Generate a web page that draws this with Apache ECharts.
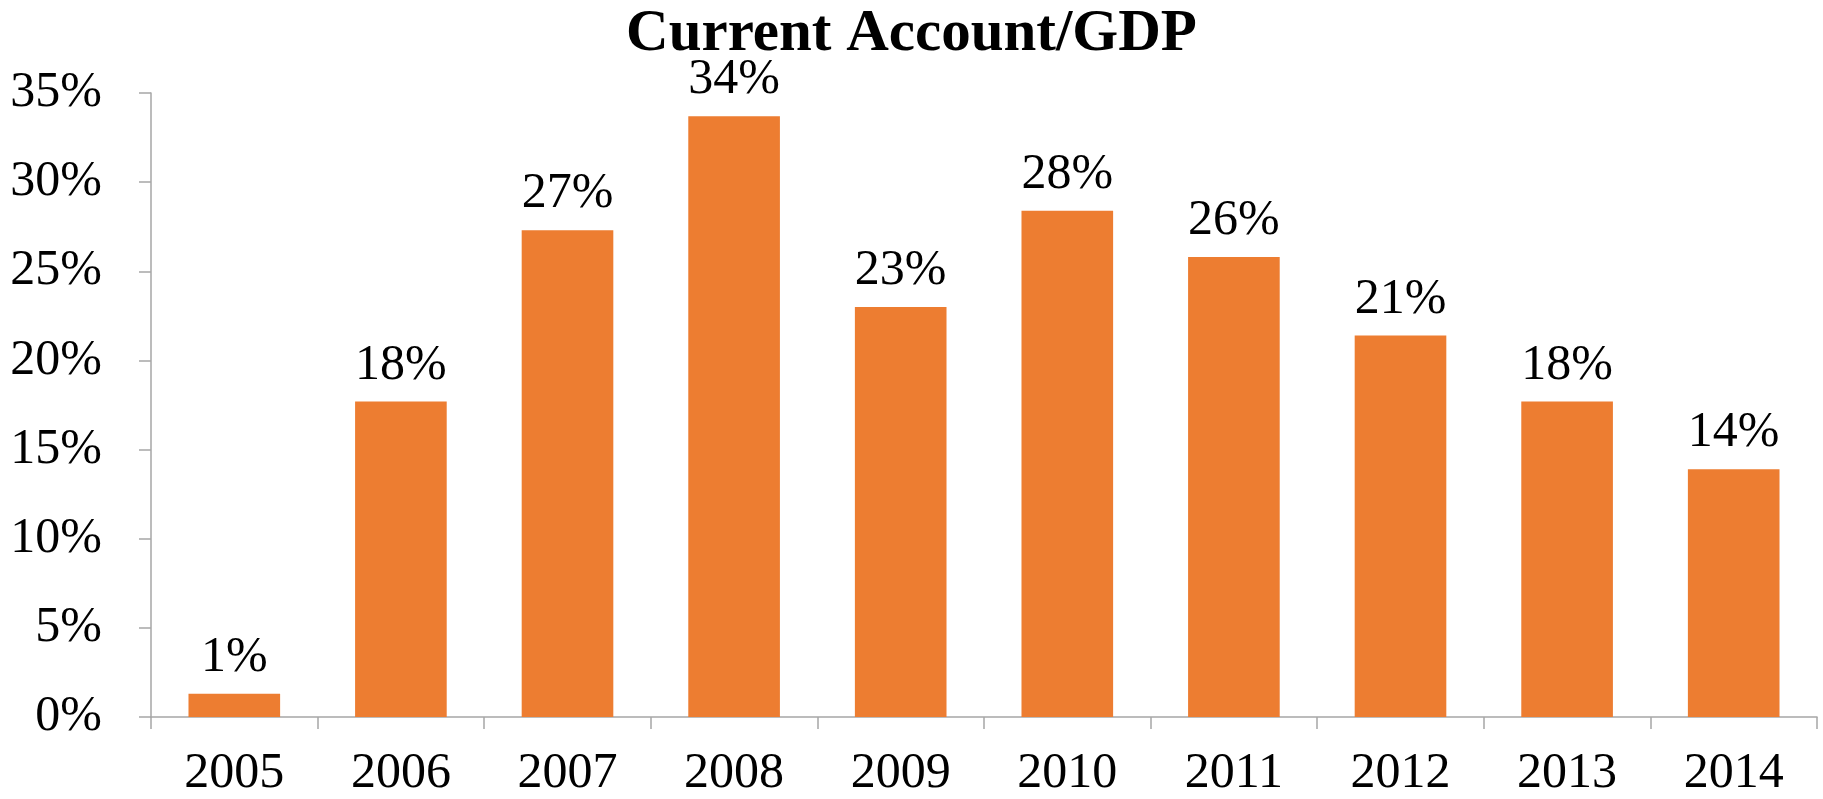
<!DOCTYPE html>
<html>
<head>
<meta charset="utf-8">
<script src="https://cdn.jsdelivr.net/npm/echarts@6/dist/echarts.min.js"></script>
<style>
html,body{margin:0;padding:0;background:#fff;}
#chart{width:1823px;height:799px;}
</style>
</head>
<body>
<div id="chart"></div>
<script>
const categories = ['2005','2006','2007','2008','2009','2010','2011','2012','2013','2014'];
const values = [1.3, 17.7, 27.3, 33.7, 23.0, 28.4, 25.8, 21.4, 17.7, 13.9];
const titleText = 'Current Account/GDP';

const chart = echarts.init(document.getElementById('chart'));
const font = 'Liberation Serif';
chart.setOption({
  animation: false,
  backgroundColor: '#ffffff',
  title: {
    text: titleText,
    left: 'center',
    top: 0,
    textStyle: {fontFamily: font, fontWeight: 'bold', fontSize: 59, color: '#000'}
  },
  grid: {left: 151, right: 6, top: 93, bottom: 82, containLabel: false},
  xAxis: {
    type: 'category',
    data: categories,
    axisLine: {show: true, lineStyle: {color: '#a6a6a6', width: 1.5}},
    axisTick: {show: true, length: 12, alignWithLabel: false, lineStyle: {color: '#a6a6a6', width: 1.5}},
    axisLabel: {fontFamily: font, fontSize: 50, color: '#000', margin: 32, interval: 0}
  },
  yAxis: {
    type: 'value',
    min: 0, max: 35, interval: 5,
    splitLine: {show: false},
    axisLine: {show: true, lineStyle: {color: '#a6a6a6', width: 1.5}},
    axisTick: {show: true, length: 12, lineStyle: {color: '#a6a6a6', width: 1.5}},
    axisLabel: {fontFamily: font, fontSize: 50, color: '#000', margin: 49, formatter: v => v + '%'}
  },
  series: [{
    type: 'bar',
    data: values,
    barCategoryGap: '45%',
    itemStyle: {color: '#ED7D31'},
    label: {
      show: true, position: 'top', distance: 11,
      fontFamily: font, fontSize: 50, color: '#000',
      formatter: p => Math.round(p.value) + '%'
    }
  }]
});
</script>
</body>
</html>
